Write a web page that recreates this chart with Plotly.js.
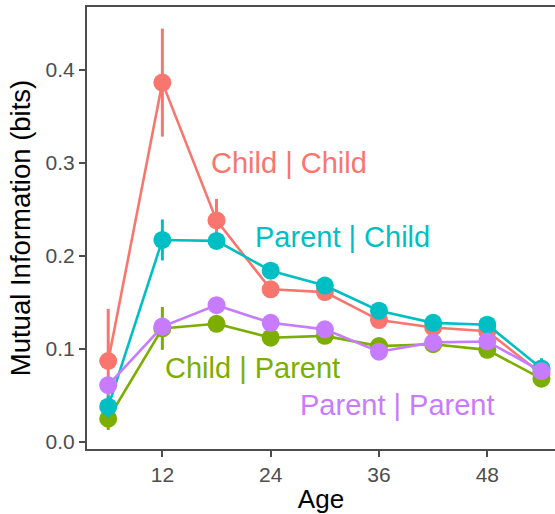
<!DOCTYPE html>
<html>
<head>
<meta charset="utf-8">
<script src="https://cdn.plot.ly/plotly-3.0.1.min.js"></script>
<style>
html, body { margin: 0; padding: 0; background: #fff; overflow: hidden; }
#chart { width: 555px; height: 514px; }
</style>
</head>
<body>
<div id="chart"></div>
<script>
// Data
const ages = [6, 12, 18, 24, 30, 36, 42, 48, 54];

const seriesNames = ["Child | Child", "Child | Parent", "Parent | Child", "Parent | Parent"];
const seriesColors = ["#F8766D", "#7CAE00", "#00BFC4", "#C77CFF"];

const childChild   = [0.087, 0.386, 0.238, 0.164, 0.161, 0.131, 0.123, 0.119, 0.073];
const childParent  = [0.025, 0.122, 0.127, 0.112, 0.114, 0.103, 0.105, 0.099, 0.068];
const parentChild  = [0.038, 0.217, 0.216, 0.184, 0.168, 0.141, 0.128, 0.126, 0.079];
const parentParent = [0.061, 0.124, 0.147, 0.128, 0.121, 0.097, 0.107, 0.108, 0.076];

const childChildErr   = [0.056, 0.058, 0.023, 0.006, 0.006, 0.006, 0.005, 0.005, 0.005];
const childParentErr  = [0.012, 0.023, 0.008, 0.006, 0.005, 0.005, 0.005, 0.005, 0.005];
const parentChildErr  = [0.012, 0.022, 0.008, 0.006, 0.006, 0.005, 0.005, 0.005, 0.011];
const parentParentErr = [0.010, 0.010, 0.008, 0.006, 0.005, 0.005, 0.005, 0.005, 0.005];

const labelX = [26, 22, 32, 38];
const labelY = [0.30, 0.08, 0.22, 0.04];

const yTicks = [0.0, 0.1, 0.2, 0.3, 0.4];
const yTickText = ["0.0", "0.1", "0.2", "0.3", "0.4"];
const xTicks = [12, 24, 36, 48];
const xTickText = ["12", "24", "36", "48"];

const values = [childChild, childParent, parentChild, parentParent];
const errors = [childChildErr, childParentErr, parentChildErr, parentParentErr];

const FONT = "Liberation Sans, Arial, Helvetica, sans-serif";
const AXIS = "#4D4D4D";

const traces = values.map((v, i) => ({
  type: "scatter",
  mode: "lines+markers",
  name: seriesNames[i],
  x: ages,
  y: v,
  line: { color: seriesColors[i], width: 2.6 },
  marker: { color: seriesColors[i], size: 18 },
  error_y: { type: "data", array: errors[i], visible: true, color: seriesColors[i], thickness: 3, width: 0 },
  showlegend: false,
  hoverinfo: "x+y+name"
}));

const annotations = seriesNames.map((n, i) => ({
  x: labelX[i], y: labelY[i], xref: "x", yref: "y",
  text: n, showarrow: false,
  xanchor: "center", yanchor: "middle",
  font: { family: FONT, size: 29, color: seriesColors[i] }
}));

const layout = {
  width: 555, height: 514,
  margin: { l: 87, r: 0, t: 7, b: 65, pad: 0 },
  paper_bgcolor: "#ffffff",
  plot_bgcolor: "#ffffff",
  font: { family: FONT, color: AXIS },
  xaxis: {
    range: [3.65, 55.5],
    tickvals: xTicks, ticktext: xTickText,
    showgrid: false, zeroline: false,
    showline: true, linecolor: AXIS, linewidth: 2, mirror: true,
    ticks: "outside", ticklen: 6, tickwidth: 2, tickcolor: AXIS,
    tickfont: { family: FONT, size: 21, color: AXIS },
    title: { text: "Age", font: { family: FONT, size: 26, color: "#000000" }, standoff: 6 }
  },
  yaxis: {
    range: [-0.0075, 0.4672],
    tickvals: yTicks, ticktext: yTickText,
    showgrid: false, zeroline: false,
    showline: true, linecolor: AXIS, linewidth: 2,
    ticks: "outside", ticklen: 6, tickwidth: 2, tickcolor: AXIS,
    tickfont: { family: FONT, size: 21, color: AXIS },
    title: { text: "Mutual Information (bits)", font: { family: FONT, size: 27.5, color: "#000000" }, standoff: 7 }
  },
  annotations: annotations
};

Plotly.newPlot("chart", traces, layout, { displayModeBar: false, staticPlot: true });
</script>
</body>
</html>
